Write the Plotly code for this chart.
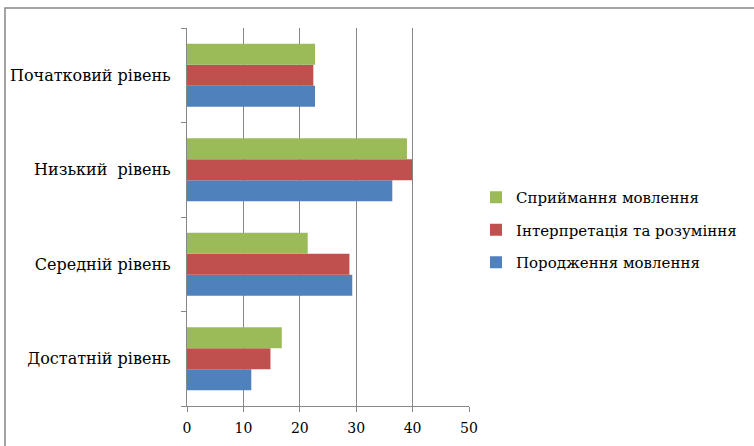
import plotly.graph_objects as go

categories = ["Достатній рівень", "Середній рівень", "Низький  рівень", "Початковий рівень"]
series_names = ["Породження мовлення", "Інтерпретація та розуміння", "Сприймання мовлення"]
porodzhennia = [11.4, 29.3, 36.4, 22.7]
interpretatsiia = [14.8, 28.8, 39.9, 22.4]
spryimannia = [16.8, 21.4, 39.0, 22.7]
colors = ["#4F81BD", "#C0504D", "#9BBB59"]
x_ticks = [0, 10, 20, 30, 40, 50]

fig = go.Figure()
for i, (name, vals, col) in enumerate(zip(series_names, [porodzhennia, interpretatsiia, spryimannia], colors)):
    fig.add_trace(go.Bar(y=categories, x=vals, name=name, orientation="h", legendgroup=f"g{i}",
                         legendrank=3 - i,
                         marker=dict(color=col, line=dict(width=0))))

W, H = 754, 446
L, R, T, B = 187, 469, 28, 406
pw, ph = R - L, B - T

def px(x):
    return (x - L) / pw

def py(y):
    return (B - y) / ph

FONT = "DejaVu Serif"

fig.update_layout(
    width=W, height=H,
    margin=dict(l=L, r=W - R, t=T, b=H - B, pad=0),
    paper_bgcolor="white", plot_bgcolor="white",
    barmode="group", bargap=0.333, bargroupgap=0,
    font=dict(family=FONT, color="black", size=16),
    xaxis=dict(range=[0, 50], tickvals=x_ticks, showgrid=True, gridcolor="#878787", gridwidth=1,
               showline=True, linecolor="#878787", linewidth=1, ticks="outside", ticklen=5,
               tickcolor="#878787", tickfont=dict(family=FONT, size=14), ticklabelstandoff=4,
               zeroline=False, fixedrange=True, automargin=False),
    yaxis=dict(type="category", showline=True, linecolor="#878787", linewidth=1,
               ticks="outside", ticklen=5, tickcolor="#878787", tickson="boundaries",
               tickfont=dict(family=FONT, size=16), ticklabelstandoff=12, showgrid=False,
               fixedrange=True, automargin=False),
    legend=dict(x=px(476), y=py(181), xanchor="left", yanchor="top", traceorder="grouped",
                font=dict(family=FONT, size=15), bgcolor="rgba(0,0,0,0)", itemwidth=30, tracegroupgap=10),
    showlegend=True,
    shapes=[dict(type="rect", xref="paper", yref="paper",
                 x0=px(5), x1=px(800), y0=py(480), y1=py(8),
                 line=dict(color="#878787", width=1.5), fillcolor="rgba(0,0,0,0)", layer="below")],
)

fig.write_html("out.html")
